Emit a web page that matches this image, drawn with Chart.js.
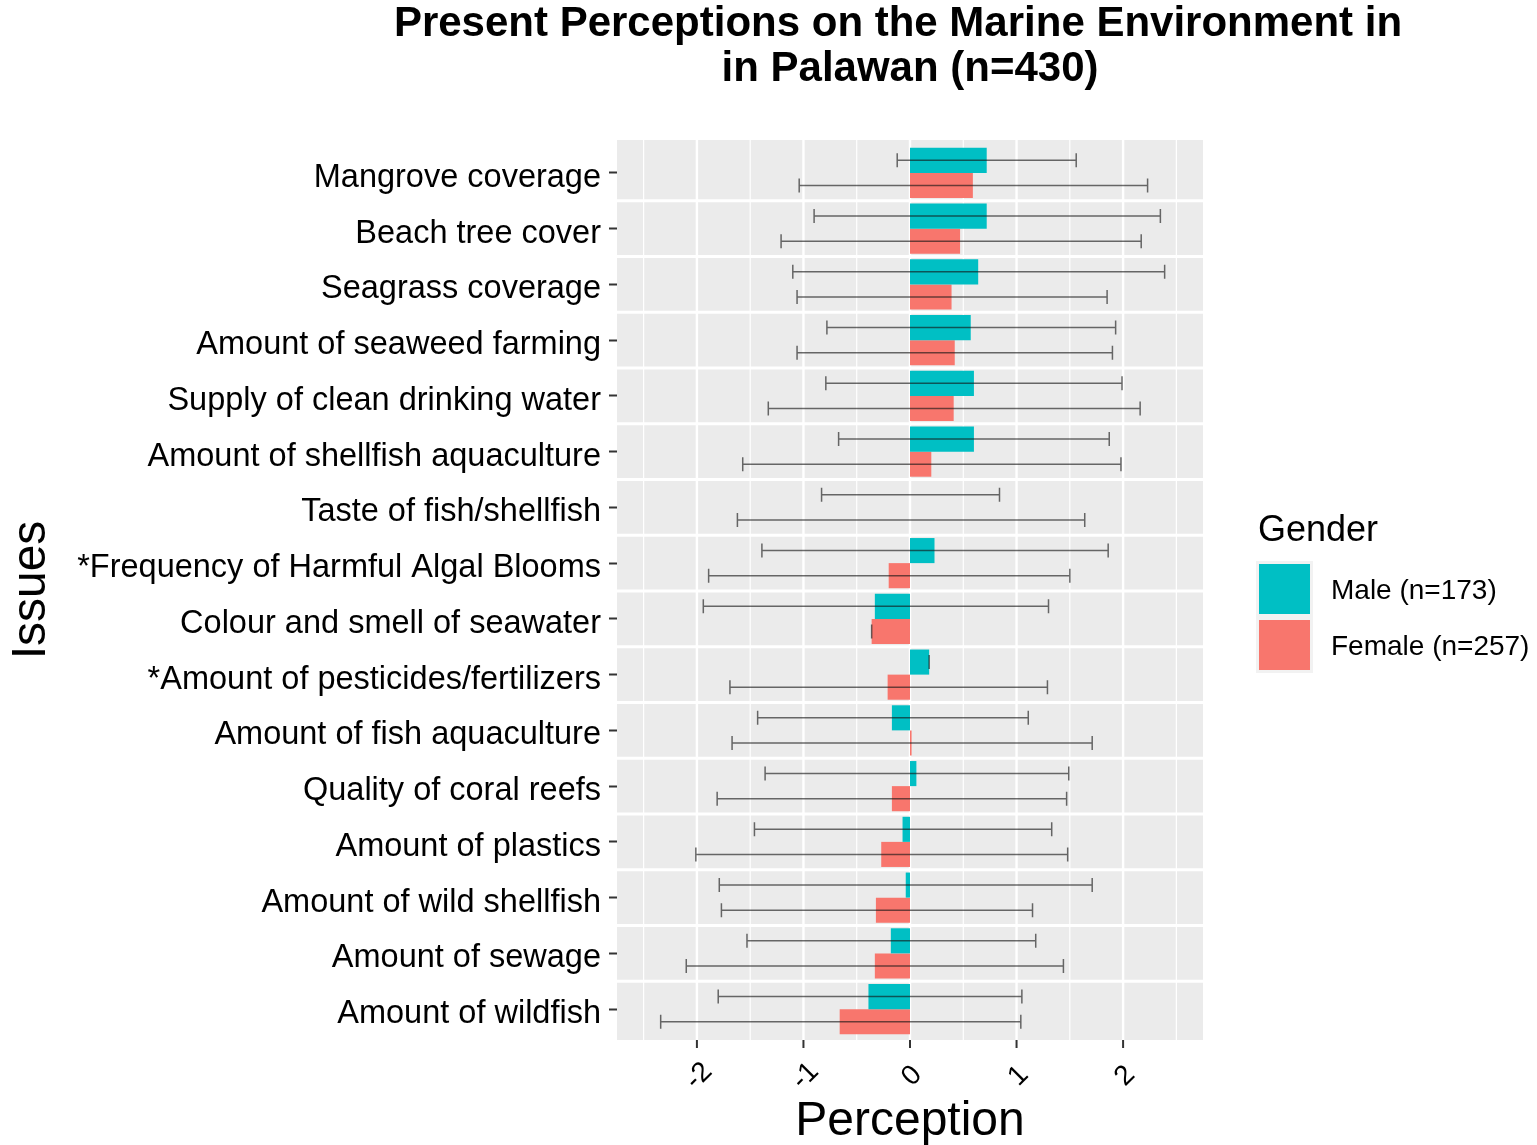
<!DOCTYPE html>
<html>
<head>
<meta charset="utf-8">
<script src="https://cdn.jsdelivr.net/npm/chart.js@4"></script>
<style>
    body { margin: 0; background: #fff; }
    canvas { display: block; }
</style>
</head>
<body>
<canvas id="chart" width="1537" height="1145"></canvas>
<script>
const issues = [
    "Mangrove coverage",
    "Beach tree cover",
    "Seagrass coverage",
    "Amount of seaweed farming",
    "Supply of clean drinking water",
    "Amount of shellfish aquaculture",
    "Taste of fish/shellfish",
    "*Frequency of Harmful Algal Blooms",
    "Colour and smell of seawater",
    "*Amount of pesticides/fertilizers",
    "Amount of fish aquaculture",
    "Quality of coral reefs",
    "Amount of plastics",
    "Amount of wild shellfish",
    "Amount of sewage",
    "Amount of wildfish",
];

const maleMean = [0.72, 0.72, 0.64, 0.57, 0.60, 0.60, 0, 0.23, -0.33, 0.18, -0.17, 0.06, -0.07, -0.04, -0.18, -0.39];
const maleLow = [-0.12, -0.90, -1.10, -0.78, -0.79, -0.67, -0.83, -1.39, -1.94, 0.18, -1.43, -1.36, -1.46, -1.79, -1.53, -1.80];
const maleHigh = [1.56, 2.35, 2.39, 1.93, 1.99, 1.87, 0.84, 1.86, 1.30, 0.18, 1.11, 1.49, 1.33, 1.71, 1.18, 1.05];

const femaleMean = [0.59, 0.47, 0.39, 0.42, 0.41, 0.20, 0, -0.20, -0.36, -0.21, 0.015, -0.17, -0.27, -0.32, -0.33, -0.66];
const femaleLow = [-1.04, -1.21, -1.06, -1.06, -1.33, -1.57, -1.62, -1.89, -0.36, -1.69, -1.67, -1.81, -2.01, -1.77, -2.10, -2.34];
const femaleHigh = [2.23, 2.17, 1.85, 1.90, 2.16, 1.98, 1.64, 1.50, -0.36, 1.29, 1.71, 1.47, 1.48, 1.15, 1.44, 1.04];

const xTicks = [-2.5, -2, -1.5, -1, -0.5, 0, 0.5, 1, 1.5, 2, 2.5];
const xLabels = ["-2", "-1", "0", "1", "2"];
const xLabelValues = [-2, -1, 0, 1, 2];

const seriesNames = ["Male (n=173)", "Female (n=257)"];
const MALE = "#00BFC4";
const FEMALE = "#F8766D";
const FONT = '"Liberation Sans", Arial, Helvetica, sans-serif';

// grey panel is a bit taller than the band the rows use
const PANEL_TOP = 140;
const PANEL_BOTTOM = 1040;

const errors = [
    { low: maleLow, high: maleHigh },
    { low: femaleLow, high: femaleHigh },
];

// panel background, grid and white row gaps (facet look)
const panelPlugin = {
    id: "panel",
    beforeDraw(chart) {
        let ctx = chart.ctx, a = chart.chartArea, x = chart.scales.x, y = chart.scales.y;
        ctx.save();
        ctx.fillStyle = "#fff";
        ctx.fillRect(0, 0, chart.width, chart.height);
        ctx.fillStyle = "#EBEBEB";
        ctx.fillRect(a.left, PANEL_TOP, a.right - a.left, PANEL_BOTTOM - PANEL_TOP);

        ctx.strokeStyle = "#fff";
        xTicks.forEach(v => {
            let px = x.getPixelForValue(v);
            ctx.lineWidth = Number.isInteger(v) ? 2.4 : 1.2;
            ctx.beginPath();
            ctx.moveTo(px, PANEL_TOP);
            ctx.lineTo(px, PANEL_BOTTOM);
            ctx.stroke();
        });

        ctx.lineWidth = 3;
        for (let i = 0; i < issues.length - 1; i++) {
            let py = (y.getPixelForValue(i) + y.getPixelForValue(i + 1)) / 2;
            ctx.beginPath();
            ctx.moveTo(a.left, py);
            ctx.lineTo(a.right, py);
            ctx.stroke();
        }

        ctx.strokeStyle = "#333";
        ctx.lineWidth = 2;
        xLabelValues.forEach(v => {
            let px = x.getPixelForValue(v);
            ctx.beginPath();
            ctx.moveTo(px, PANEL_BOTTOM);
            ctx.lineTo(px, PANEL_BOTTOM + 8);
            ctx.stroke();
        });
        ctx.restore();
    }
};

const errorBarPlugin = {
    id: "errorBars",
    afterDatasetsDraw(chart) {
        let ctx = chart.ctx, x = chart.scales.x;
        ctx.save();
        ctx.strokeStyle = "rgba(20,20,20,0.62)";
        ctx.lineWidth = 1.5;
        errors.forEach((err, d) => {
            let meta = chart.getDatasetMeta(d);
            meta.data.forEach((bar, i) => {
                let x1 = x.getPixelForValue(err.low[i]);
                let x2 = x.getPixelForValue(err.high[i]);
                let h = 7;
                ctx.beginPath();
                ctx.moveTo(x1, bar.y);
                ctx.lineTo(x2, bar.y);
                ctx.moveTo(x1, bar.y - h);
                ctx.lineTo(x1, bar.y + h);
                ctx.moveTo(x2, bar.y - h);
                ctx.lineTo(x2, bar.y + h);
                ctx.stroke();
            });
        });
        ctx.restore();
    }
};

// title, axis titles, rotated x labels, legend
const decorPlugin = {
    id: "decor",
    afterDraw(chart) {
        let ctx = chart.ctx, a = chart.chartArea, x = chart.scales.x;
        ctx.save();
        ctx.fillStyle = "#000";
        ctx.textBaseline = "alphabetic";
        ctx.textAlign = "center";
        ctx.font = `bold 42px ${FONT}`;
        ctx.fillText("Present Perceptions on the Marine Environment in", 898, 36);
        ctx.fillText("in Palawan (n=430)", 910, 81);

        ctx.font = `48px ${FONT}`;
        ctx.fillText("Perception", (a.left + a.right) / 2, 1135);
        ctx.save();
        ctx.translate(45, (PANEL_TOP + PANEL_BOTTOM) / 2);
        ctx.rotate(-Math.PI / 2);
        ctx.fillText("Issues", 0, 0);
        ctx.restore();

        ctx.font = `28px ${FONT}`;
        ctx.textBaseline = "middle";
        xLabelValues.forEach((v, i) => {
            ctx.save();
            ctx.translate(x.getPixelForValue(v) + 2, 1076);
            ctx.rotate(-Math.PI / 4);
            ctx.fillText(xLabels[i], 0, 0);
            ctx.restore();
        });

        // legend
        ctx.textAlign = "left";
        ctx.textBaseline = "alphabetic";
        ctx.font = `36px ${FONT}`;
        ctx.fillText("Gender", 1258, 541);
        ctx.fillStyle = "#F2F2F2";
        ctx.fillRect(1256, 561, 57, 112);
        [MALE, FEMALE].forEach((c, i) => {
            ctx.fillStyle = c;
            ctx.fillRect(1259, 564 + i * 56, 51, 50);
        });
        ctx.fillStyle = "#000";
        ctx.font = `28px ${FONT}`;
        ctx.textBaseline = "middle";
        seriesNames.forEach((s, i) => {
            ctx.fillText(s, 1331, 591 + i * 56);
        });
        ctx.restore();
    }
};

var chart = new Chart(document.getElementById("chart"), {
    type: "bar",
    data: {
        labels: issues,
        datasets: [
            { label: seriesNames[0], data: maleMean, backgroundColor: MALE, borderWidth: 0 },
            { label: seriesNames[1], data: femaleMean, backgroundColor: FEMALE, borderWidth: 0 },
        ]
    },
    options: {
        indexAxis: "y",
        responsive: false,
        animation: false,
        devicePixelRatio: 1,
        datasets: {
            bar: { categoryPercentage: 0.9, barPercentage: 1.0 }
        },
        layout: {
            padding: { top: 145, right: 334, bottom: 0, left: 0 }
        },
        scales: {
            x: {
                type: "linear",
                min: -2.75,
                max: 2.75,
                afterBuildTicks: scale => {
                    scale.ticks = xTicks.map(v => ({ value: v }));
                },
                afterFit: scale => { scale.height = 108; },
                border: { display: false },
                grid: { display: false },
                ticks: { display: false }
            },
            y: {
                type: "category",
                afterFit: scale => { scale.width = 617; },
                border: { display: false },
                grid: {
                    offset: false,
                    drawOnChartArea: false,
                    tickColor: "#333",
                    tickLength: 8,
                    tickWidth: 2,
                },
                ticks: {
                    autoSkip: false,
                    color: "#000",
                    padding: 8,
                    labelOffset: 5,
                    font: { family: FONT, size: 32.5 }
                }
            }
        },
        plugins: {
            legend: { display: false },
            title: { display: false },
            tooltip: { enabled: false }
        }
    },
    plugins: [panelPlugin, errorBarPlugin, decorPlugin]
});
</script>
</body>
</html>
